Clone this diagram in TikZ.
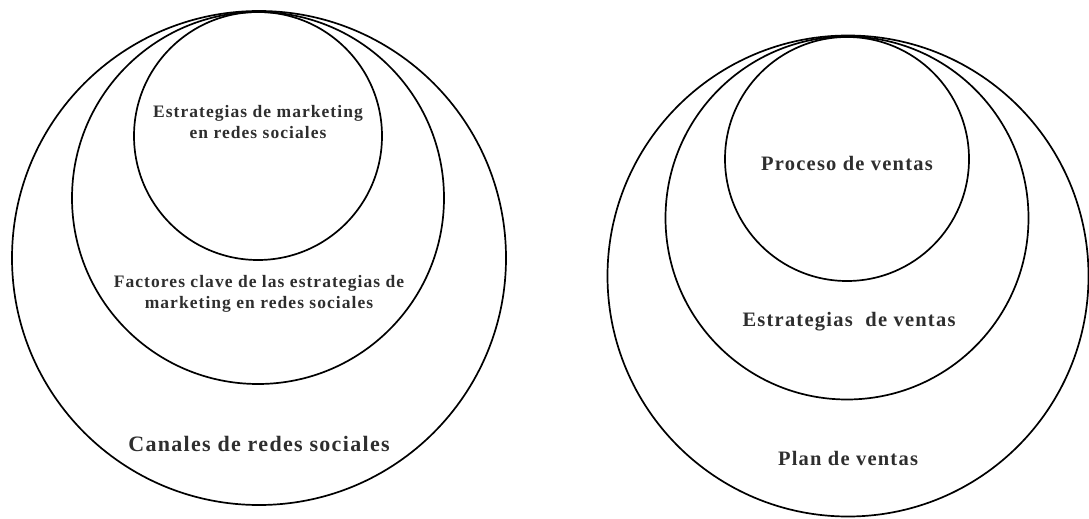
\documentclass[tikz,border=0pt]{standalone}
\usepackage{fontspec}
\setmainfont{Liberation Serif}[LetterSpace=6]
\begin{document}
\begin{tikzpicture}[x=1pt,y=-1pt,
  ring/.style={draw=black, line width=1.7pt, circle, inner sep=0pt},
  lbl/.style={align=center, text=black!82, inner sep=0pt},
  fsmall/.style={font=\bfseries\fontsize{17.5}{21.5}\selectfont},
  fmid/.style={font=\bfseries\fontsize{20.5}{24}\selectfont},
  fbig/.style={font=\bfseries\fontsize{22}{26}\selectfont}]
\useasboundingbox (0,0) rectangle (1089,519);
% left set
\node[ring, minimum size=494pt] (LO) at (259,258) {};
\node[ring, minimum size=372pt] (LM) at (258,198) {};
\node[ring, minimum size=248pt] (LI) at (258,136) {};
\node[lbl, fsmall] (LIt) at (258,122) {Estrategias de marketing\\en redes sociales};
\node[lbl, fsmall] (LMt) at (259,294) {Factores clave de las estrategias de\\marketing en redes sociales};
\node[lbl, fbig] (LOt) at (259,444) {Canales de redes sociales};
% right set
\node[ring, minimum size=481pt] (RO) at (848,276) {};
\node[ring, minimum size=363pt] (RM) at (847,218) {};
\node[ring, minimum size=244pt] (RI) at (847,159) {};
\node[lbl, fmid] (RIt) at (847,163) {Proceso de ventas};
\node[lbl, fmid] (RMt) at (849,322) {Estrategias\ \ de ventas};
\node[lbl, fmid] (ROt) at (848,458) {Plan de ventas};
\end{tikzpicture}
\end{document}
